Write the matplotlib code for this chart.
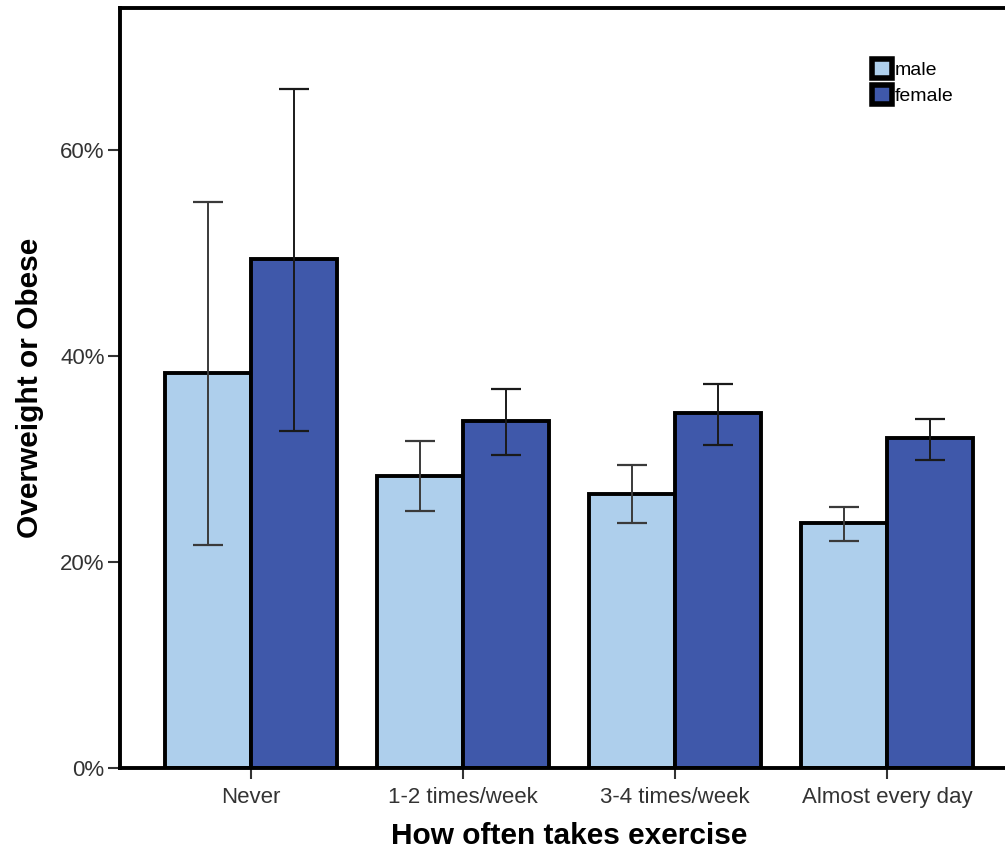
import matplotlib
matplotlib.use("Agg")
import matplotlib.pyplot as plt
import numpy as np
from matplotlib.patches import Patch

categories = ["Never", "1-2 times/week", "3-4 times/week", "Almost every day"]
male = [38.4, 28.35, 26.6, 23.8]
male_lo = [21.65, 24.95, 23.8, 22.0]
male_hi = [55.0, 31.8, 29.4, 25.3]
female = [49.4, 33.7, 34.5, 32.0]
female_lo = [32.7, 30.4, 31.4, 29.9]
female_hi = [65.9, 36.8, 37.3, 33.9]
yticks = [0, 20, 40, 60]

plt.rcParams['font.family'] = ['Liberation Sans', 'DejaVu Sans']

fig = plt.figure(figsize=(10.05, 8.56), dpi=100)
ax = fig.add_axes([120/1005, 88/856, 898/1005, 760/856])

x = np.arange(len(categories))
w = 0.406
male_c = "#AECFEC"
female_c = "#3F58AA"

ax.bar(x - w/2, male, w, color=male_c, edgecolor="black", linewidth=2.8, zorder=2)
ax.bar(x + w/2, female, w, color=female_c, edgecolor="black", linewidth=2.8, zorder=2)

m = np.array(male); f = np.array(female)
ax.errorbar(x - w/2, m, yerr=[m - np.array(male_lo), np.array(male_hi) - m],
            fmt='none', ecolor="#3a3a3a", elinewidth=1.4, capsize=11, capthick=1.6, zorder=3)
ax.errorbar(x + w/2, f, yerr=[f - np.array(female_lo), np.array(female_hi) - f],
            fmt='none', ecolor="#1a1a1a", elinewidth=1.4, capsize=11, capthick=1.6, zorder=3)

ax.set_xlim(-0.618, 3.618)
ax.set_ylim(0, 73.8)
ax.set_yticks(yticks)
ax.set_yticklabels([f"{v}%" for v in yticks])
ax.set_xticks(x)
ax.set_xticklabels(categories)

for s in ax.spines.values():
    s.set_linewidth(2.8)
    s.set_color("black")

ax.tick_params(axis='x', direction='out', length=8, width=1.5, color="#333333",
               labelsize=16, labelcolor="#333333", pad=6)
ax.tick_params(axis='y', direction='out', length=9, width=1.5, color="#333333",
               labelsize=16, labelcolor="#333333", pad=2)

ax.set_xlabel("How often takes exercise", fontsize=21.5, fontweight='bold', labelpad=10)
ax.set_ylabel("Overweight or Obese", fontsize=21.5, fontweight='bold', labelpad=12)

handles = [Patch(facecolor=male_c, edgecolor="black", linewidth=4, label="male"),
           Patch(facecolor=female_c, edgecolor="black", linewidth=4, label="female")]
ax.legend(handles=handles, loc='upper left', bbox_to_anchor=(0.822, 0.951),
          frameon=False, fontsize=14, handlelength=1.05, handleheight=1.15,
          handletextpad=0.15, labelspacing=0.3, borderpad=0.2)

fig.savefig("out.png", dpi=100)
